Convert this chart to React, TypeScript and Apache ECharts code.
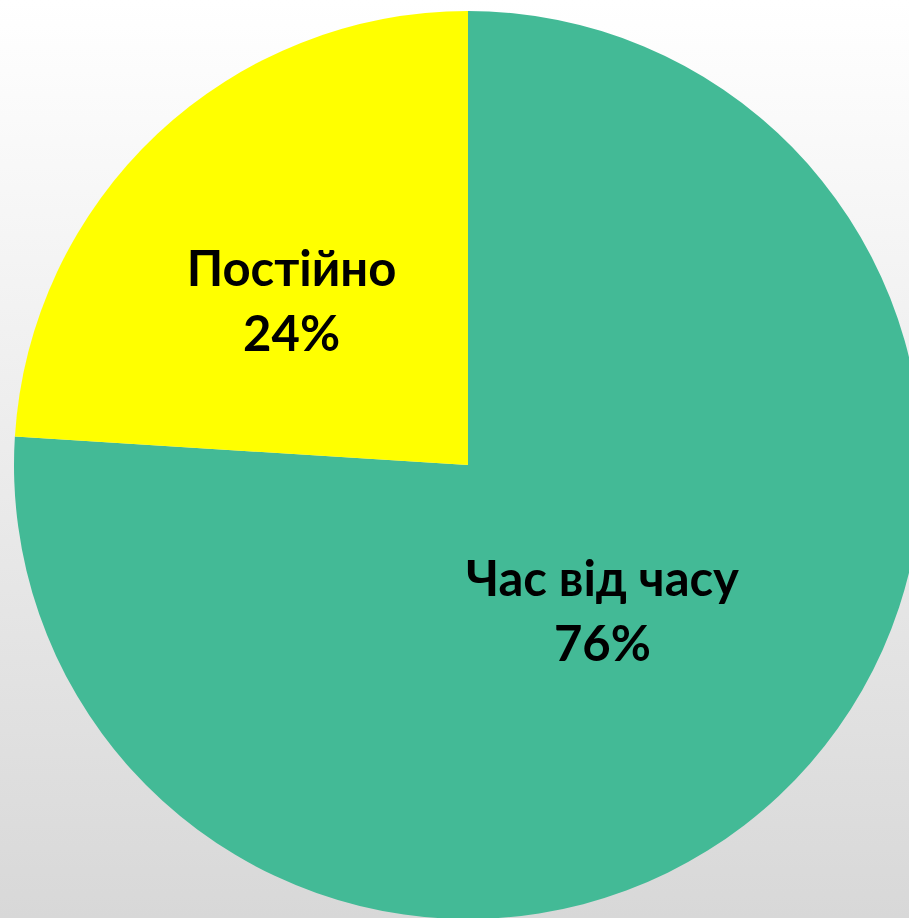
import React, { useEffect, useRef } from "react";
import * as echarts from "echarts";

const categories = ["Час від часу", "Постійно"];
const values = [76, 24];
const colors = ["#43BA96", "#FFFF00"];
const labelShift = [
  [-23, -23],
  [-19, 2],
];

export default function App() {
  const ref = useRef<HTMLDivElement>(null);
  useEffect(() => {
    const chart = echarts.init(ref.current!, null, { renderer: "svg" });
    chart.setOption({
      animation: false,
      backgroundColor: {
        type: "linear",
        x: 0,
        y: 0,
        x2: 0,
        y2: 1,
        colorStops: [
          { offset: 0, color: "#ffffff" },
          { offset: 1, color: "#d8d8d8" },
        ],
      },
      series: [
        {
          type: "pie",
          center: [468, 465],
          radius: 454,
          startAngle: 90,
          clockwise: true,
          percentPrecision: 0,
          data: categories.map((name, i) => ({
            name,
            value: values[i],
            itemStyle: { color: colors[i] },
          })),
          label: {
            show: true,
            position: "inside",
            formatter: "{b}\n{d}%",
            color: "#000",
            fontFamily: "Lato",
            fontWeight: "bold",
            fontSize: 49,
            lineHeight: 65,
            align: "center",
          },
          labelLayout: (p: any) => ({
            dx: labelShift[p.dataIndex][0],
            dy: labelShift[p.dataIndex][1],
          }),
          labelLine: { show: false },
          emphasis: { disabled: true },
        },
      ],
    });
    return () => chart.dispose();
  }, []);
  return (
    <div
      ref={ref}
      style={{ position: "fixed", left: 0, top: 0, width: 909, height: 918 }}
    />
  );
}
